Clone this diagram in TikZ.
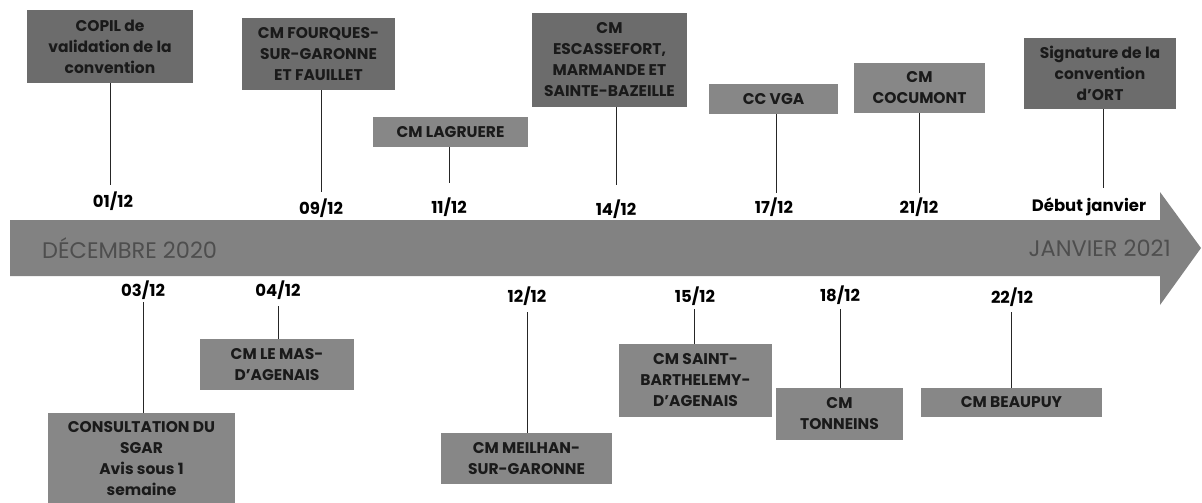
\documentclass[tikz,border=0pt]{standalone}
\usepackage{fontspec}
\setmainfont{Poppins}
\definecolor{boxdark}{HTML}{6C6C6C}
\definecolor{boxlight}{HTML}{878787}
\definecolor{arrowgray}{HTML}{828282}
\definecolor{arrowtext}{HTML}{4E4E4E}
\definecolor{boxtext}{HTML}{1A1A1A}
\begin{document}
\begin{tikzpicture}[x=1pt,y=-1pt,
  evbox/.style={fill=boxlight,draw=none,inner sep=0pt,align=center,
    font=\bfseries\fontsize{15.5}{21}\selectfont,text=boxtext},
  evdark/.style={evbox,fill=boxdark},
  datelbl/.style={font=\bfseries\fontsize{16.5}{18}\selectfont,inner sep=1pt},
  monthlbl/.style={text=arrowtext,font=\fontsize{22.5}{24}\selectfont,inner sep=0pt},
  tick/.style={draw=black!85,line width=0.8pt}]
\useasboundingbox (0,0) rectangle (1202,503);
\fill[white] (0,0) rectangle (1202,503);
% arrow
\fill[arrowgray] (10,220) -- (1160,220) -- (1160,192) -- (1201,248) -- (1160,305) -- (1160,276) -- (10,276) -- cycle;
\node[monthlbl,anchor=west] (dec) at (42,248) {DÉCEMBRE 2020};
\node[monthlbl,anchor=east] (jan) at (1171,248) {JANVIER 2021};
% top boxes
\node[evdark,minimum width=166,minimum height=73] (b1) at (110,46.5) {COPIL de\\validation de la\\convention};
\node[evdark,minimum width=153,minimum height=72] (b2) at (318.5,54) {CM FOURQUES-\\SUR-GARONNE\\ET FAUILLET};
\node[evbox,minimum width=155,minimum height=30] (b3) at (450.5,132) {CM LAGRUERE};
\node[evdark,minimum width=155,minimum height=94] (b4) at (609.5,60) {CM\\ESCASSEFORT,\\MARMANDE ET\\SAINTE-BAZEILLE};
\node[evbox,minimum width=129,minimum height=30] (b5) at (773.5,99) {CC VGA};
\node[evbox,minimum width=131,minimum height=50] (b6) at (919.5,88) {CM\\COCUMONT};
\node[evdark,minimum width=152,minimum height=71] (b7) at (1100,73.5) {Signature de la\\convention\\d'ORT};
% top dates
\node[datelbl] (d1) at (113,201) {01/12};
\node[datelbl] (d2) at (321,208) {09/12};
\node[datelbl] (d3) at (449,207) {11/12};
\node[datelbl] (d4) at (616,209) {14/12};
\node[datelbl] (d5) at (774,207) {17/12};
\node[datelbl] (d6) at (919,207) {21/12};
\node[datelbl] (d7) at (1089,207) {Début janvier};
% bottom boxes
\node[evbox,minimum width=187,minimum height=92] (b8) at (141.5,459) {CONSULTATION DU\\SGAR\\Avis sous 1\\semaine};
\node[evbox,minimum width=154,minimum height=51] (b9) at (277,364.5) {CM LE MAS-\\D'AGENAIS};
\node[evbox,minimum width=171,minimum height=51] (b10) at (526.5,458.5) {CM MEILHAN-\\SUR-GARONNE};
\node[evbox,minimum width=153,minimum height=73] (b11) at (695.5,380.5) {CM SAINT-\\BARTHELEMY-\\D'AGENAIS};
\node[evbox,minimum width=127,minimum height=52] (b12) at (839.5,414) {CM\\TONNEINS};
\node[evbox,minimum width=181,minimum height=29] (b13) at (1011.5,402.5) {CM BEAUPUY};
% bottom dates
\node[datelbl] (d8) at (143,290) {03/12};
\node[datelbl] (d9) at (278,290) {04/12};
\node[datelbl] (d10) at (527,296) {12/12};
\node[datelbl] (d11) at (695,296) {15/12};
\node[datelbl] (d12) at (840,295) {18/12};
\node[datelbl] (d13) at (1012,297) {22/12};
% connectors top
\draw[tick] (b1.south -| 110,0) -- (110,185);
\draw[tick] (b2.south -| 321,0) -- (321,192);
\draw[tick] (b3.south -| 449,0) -- (449,183);
\draw[tick] (b4.south -| 616,0) -- (616,185);
\draw[tick] (b5.south -| 776,0) -- (776,193);
\draw[tick] (b6.south -| 919,0) -- (919,193);
\draw[tick] (b7.south -| 1103,0) -- (1103,188);
% connectors bottom
\draw[tick] (143,302) -- (b8.north -| 143,0);
\draw[tick] (278,306) -- (b9.north -| 278,0);
\draw[tick] (527,312) -- (b10.north -| 527,0);
\draw[tick] (694,309) -- (b11.north -| 694,0);
\draw[tick] (840,309) -- (b12.north -| 840,0);
\draw[tick] (1011,312) -- (b13.north -| 1011,0);
\end{tikzpicture}
\end{document}
